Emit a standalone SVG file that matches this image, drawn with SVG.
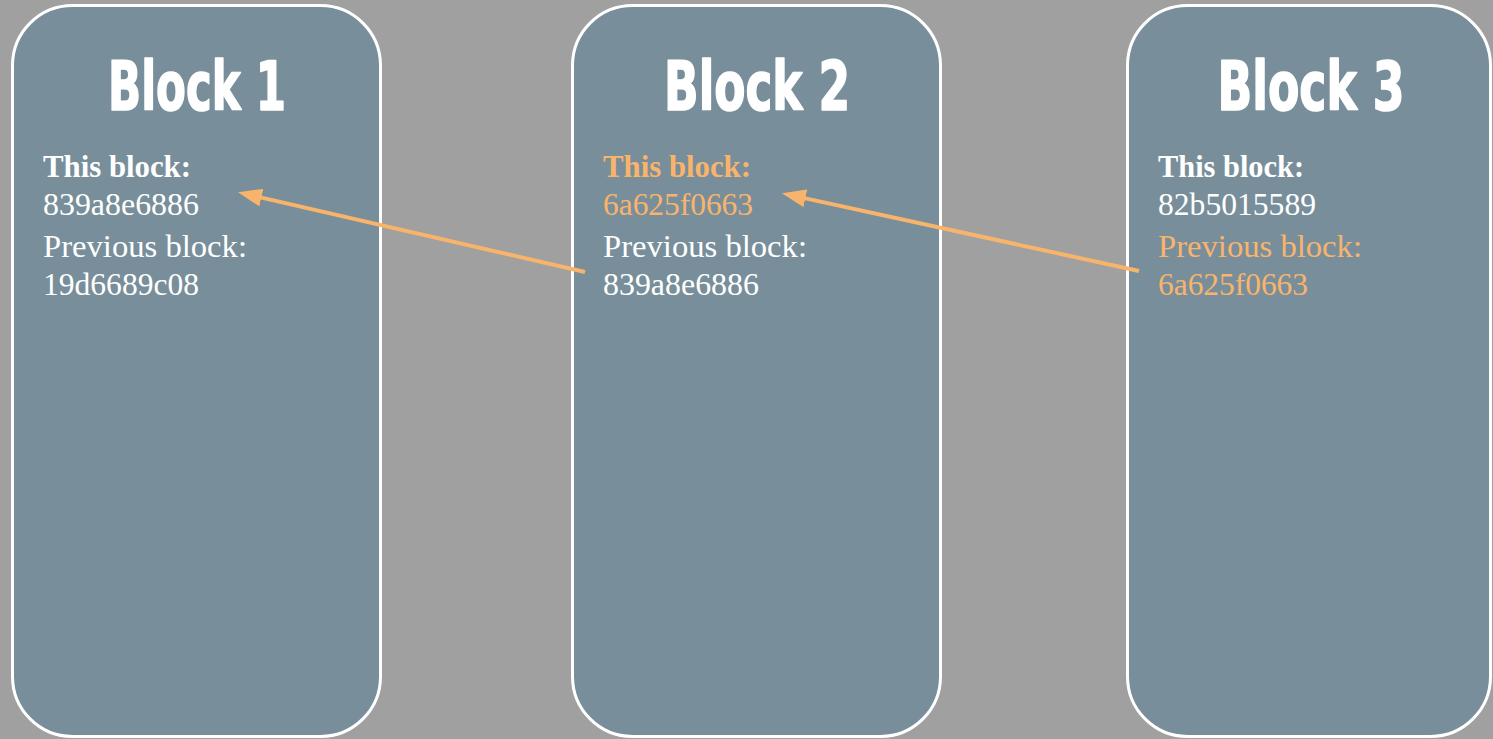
<svg xmlns="http://www.w3.org/2000/svg" width="1493" height="739" viewBox="0 0 1493 739">
  <style>
    .card { fill: #788f9b; stroke: #ffffff; stroke-width: 3; }
    .title { font-family: "Liberation Sans Narrow", "DejaVu Sans Condensed", "Liberation Sans", sans-serif; font-weight: bold; font-size: 68px; fill: #ffffff; stroke: #ffffff; stroke-width: 1.6; stroke-linejoin: round; text-anchor: middle; }
    .body { font-family: "Liberation Serif", "DejaVu Serif", serif; font-size: 31px; fill: #ffffff; }
    .label { font-weight: bold; }
    .hl { fill: #f9b46c; }
    .link { stroke: #f9b46c; stroke-width: 4; fill: none; marker-end: url(#head); }
  </style>
  <defs>
    <marker id="head" markerUnits="userSpaceOnUse" markerWidth="24" markerHeight="18" viewBox="0 -9 24 18" refX="1" refY="0" orient="auto">
      <path d="M0,-9 L24,0 L0,9 z" fill="#f9b46c"/>
    </marker>
  </defs>

  <rect width="1493" height="739" fill="#a0a0a0"/>

  <g id="block1">
    <rect class="card" x="12.5" y="5.5" width="368" height="731" rx="60" ry="60"/>
    <text class="title" x="197" y="110" textLength="178" lengthAdjust="spacingAndGlyphs">Block 1</text>
    <text class="body label" x="43" y="177" textLength="148" lengthAdjust="spacingAndGlyphs">This block:</text>
    <text class="body" x="43" y="215" textLength="156" lengthAdjust="spacingAndGlyphs">839a8e6886</text>
    <text class="body" x="43" y="257" textLength="204" lengthAdjust="spacingAndGlyphs">Previous block:</text>
    <text class="body" x="43" y="295" textLength="156" lengthAdjust="spacingAndGlyphs">19d6689c08</text>
  </g>

  <g id="block2">
    <rect class="card" x="572.5" y="5.5" width="368" height="731" rx="60" ry="60"/>
    <text class="title" x="757" y="110" textLength="186" lengthAdjust="spacingAndGlyphs">Block 2</text>
    <text class="body label hl" x="603" y="177" textLength="148" lengthAdjust="spacingAndGlyphs">This block:</text>
    <text class="body hl" x="603" y="215" textLength="150" lengthAdjust="spacingAndGlyphs">6a625f0663</text>
    <text class="body" x="603" y="257" textLength="204" lengthAdjust="spacingAndGlyphs">Previous block:</text>
    <text class="body" x="603" y="295" textLength="156" lengthAdjust="spacingAndGlyphs">839a8e6886</text>
  </g>

  <g id="block3">
    <rect class="card" x="1127.5" y="5.5" width="363" height="731" rx="60" ry="60"/>
    <text class="title" x="1311" y="110" textLength="187" lengthAdjust="spacingAndGlyphs">Block 3</text>
    <text class="body label" x="1158" y="177" textLength="146" lengthAdjust="spacingAndGlyphs">This block:</text>
    <text class="body" x="1158" y="215" textLength="158" lengthAdjust="spacingAndGlyphs">82b5015589</text>
    <text class="body hl" x="1158" y="257" textLength="204" lengthAdjust="spacingAndGlyphs">Previous block:</text>
    <text class="body hl" x="1158" y="295" textLength="150" lengthAdjust="spacingAndGlyphs">6a625f0663</text>
  </g>

  <g id="connectors">
    <line class="link" x1="585" y1="272" x2="260.4" y2="197.4"/>
    <line class="link" x1="1139" y1="271" x2="804.4" y2="198.1"/>
  </g>
</svg>
